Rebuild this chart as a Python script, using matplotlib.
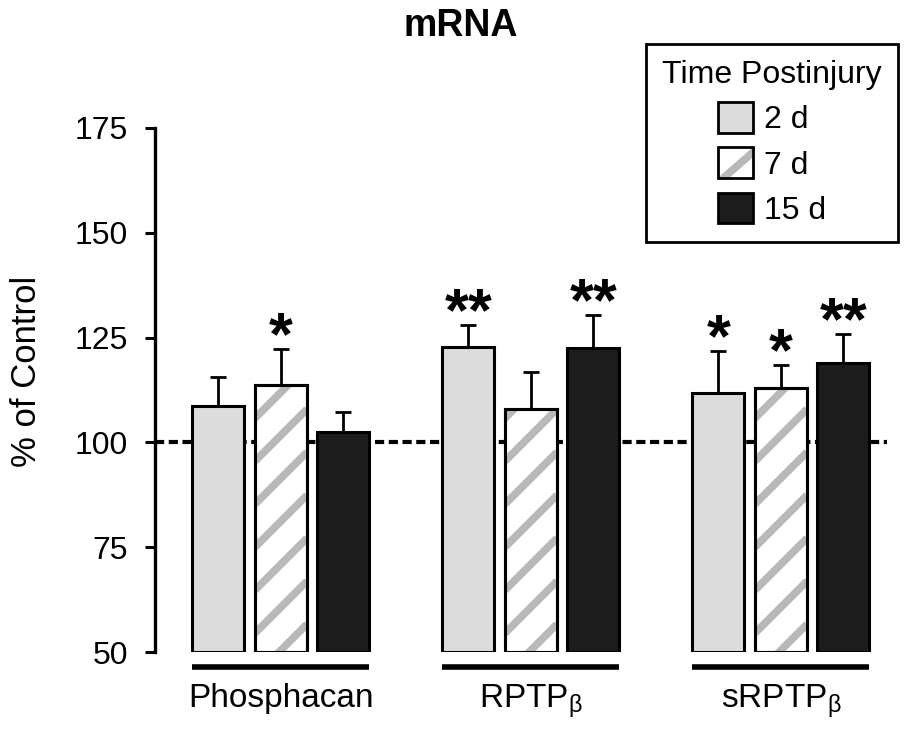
import numpy as np
import matplotlib
matplotlib.use("Agg")
import matplotlib.pyplot as plt
from matplotlib.patches import Rectangle
from matplotlib.lines import Line2D
from matplotlib.legend_handler import HandlerBase

plt.rcParams['font.family'] = ['Liberation Sans', 'DejaVu Sans']
plt.rcParams['mathtext.fontset'] = 'custom'
plt.rcParams['mathtext.rm'] = 'Liberation Sans'
plt.rcParams['mathtext.it'] = 'Liberation Sans'

# donnees (% du controle)
groupes = ['Phosphacan', 'RPTP$_\\mathrm{β}$', 'sRPTP$_\\mathrm{β}$']
temps = ['2 d', '7 d', '15 d']
val_2d = [108.8, 122.8, 111.7]
val_7d = [113.6, 107.9, 113.0]
val_15d = [102.6, 122.6, 118.9]
err_2d = [6.7, 5.3, 10.1]
err_7d = [8.7, 8.9, 5.5]
err_15d = [4.6, 7.9, 7.0]
etoiles_2d = ['', '**', '*']
etoiles_7d = ['*', '', '*']
etoiles_15d = ['', '**', '**']

couleur_gris = '#dcdcdc'
couleur_noir = '#1c1c1c'
couleur_raie = '#b8b8b8'

fig = plt.figure(figsize=(9.2, 7.43), dpi=100)
ax = fig.add_axes([155/920, 1 - 652/743, 732/920, 524/743])
ax.set_xlim(-0.504, 2.424)
ax.set_ylim(50, 175)

x = np.arange(len(groupes))
pas = 0.25
larg = 0.208

# ligne pointillee a 100 %
ax.axhline(100, color='black', lw=3, dashes=(2.2, 1.1), zorder=1)

series = [(val_2d, err_2d, etoiles_2d), (val_7d, err_7d, etoiles_7d), (val_15d, err_15d, etoiles_15d)]
couleurs = [couleur_gris, 'white', couleur_noir]

barres = []
for i, (vals, errs, etoiles) in enumerate(series):
    pos = x + (i - 1) * pas
    b = ax.bar(pos, np.array(vals) - 50, bottom=50, width=larg, color=couleurs[i],
               edgecolor='black', linewidth=2.2, zorder=2)
    barres.append(b)
    ax.errorbar(pos, vals, yerr=[np.zeros(len(errs)), errs], fmt='none', ecolor='black',
                elinewidth=2, capsize=5.5, capthick=2, zorder=1.5)
    for xp, v, e, s in zip(pos, vals, errs, etoiles):
        if s:
            ax.annotate(s, (xp, v + e), xytext=(0, -4), textcoords='offset points',
                        ha='center', va='baseline', fontsize=44, fontweight='bold')

# raies diagonales des barres 7 d (45 degres a l'ecran)
p0, p1 = ax.transData.transform([(0, 50), (1, 51)])
k = (p1[0] - p0[0]) / (p1[1] - p0[1])  # unites y par unite x
ecart = 43 / (p1[1] - p0[1])
for rect in barres[1]:
    gauche = rect.get_x()
    w = rect.get_width()
    haut = rect.get_y() + rect.get_height()
    n_min = -int(k * w / ecart) - 2
    n_max = int((haut - 50) / ecart) + 2
    for n in range(n_min, n_max):
        y0 = 50 + 4.5 + n * ecart
        ln, = ax.plot([gauche, gauche + w], [y0, y0 + k * w], color=couleur_raie,
                      lw=5.5, solid_capstyle='butt', zorder=2.5)
        ln.set_clip_path(rect)
ax.bar(x, np.array(val_7d) - 50, bottom=50, width=larg, color='none',
       edgecolor='black', linewidth=2.2, zorder=3)

# soulignement des groupes
trans = ax.get_xaxis_transform()
for xc in x:
    ax.plot([xc - 0.356, xc + 0.352], [-0.0286, -0.0286], color='black', lw=4,
            solid_capstyle='butt', transform=trans, clip_on=False)

ax.set_xticks(x)
ax.set_xticklabels(groupes, fontsize=24)
ax.tick_params(axis='x', length=0, pad=22)
ax.set_yticks([50, 75, 100, 125, 150, 175])
ax.tick_params(axis='y', labelsize=23, length=7.5, width=2.2, pad=12)
for s in ['top', 'right', 'bottom']:
    ax.spines[s].set_visible(False)
ax.spines['left'].set_linewidth(2.4)

fig.text(461/920, 1 - 26/743, 'mRNA', ha='center', va='center', fontsize=27, fontweight='bold')
fig.text(27/920, 1 - 371/743, '% of Control', ha='center', va='center', rotation=90, fontsize=25)


class RaieHandler(HandlerBase):
    def create_artists(self, legend, orig, xd, yd, w, h, fs, trans):
        fond = Rectangle((-xd, -yd), w, h, facecolor='white', edgecolor='none', transform=trans)
        raie = Line2D([-xd, -xd + w], [-yd - 0.15 * h, -yd + 0.85 * h], color=couleur_raie,
                      lw=5.5, transform=trans)
        bord = Rectangle((-xd, -yd), w, h, facecolor='none', edgecolor='black', lw=2, transform=trans)
        raie.set_clip_path(fond)
        return [fond, raie, bord]


poignees = [Rectangle((0, 0), 1, 1, facecolor=couleur_gris, edgecolor='black', lw=2),
            Rectangle((0, 0), 1, 1, facecolor='white', edgecolor='black', lw=2),
            Rectangle((0, 0), 1, 1, facecolor=couleur_noir, edgecolor='black', lw=2)]
leg = fig.legend(poignees, temps, title='Time Postinjury', loc='upper right',
                 bbox_to_anchor=(898/920, 1 - 44/743), borderaxespad=0, fontsize=23,
                 title_fontsize=23, fancybox=False, framealpha=1, edgecolor='black',
                 handlelength=1.1, handleheight=1.1, handletextpad=0.35, labelspacing=0.38,
                 borderpad=0.5, alignment='center',
                 handler_map={poignees[1]: RaieHandler()})
leg.get_frame().set_linewidth(2)

fig.savefig('out.png', dpi=100)
